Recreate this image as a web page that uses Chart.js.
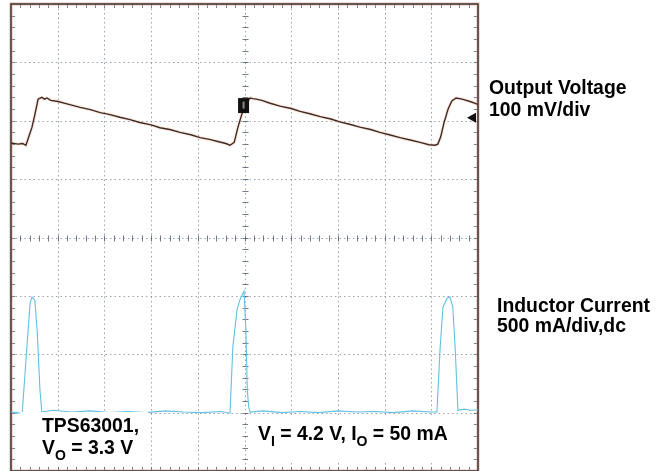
<!DOCTYPE html>
<html>
<head>
<meta charset="utf-8">
<script src="https://cdn.jsdelivr.net/npm/chart.js@4.4.1/dist/chart.umd.min.js"></script>
<style>
  body { margin: 0; background: #fff; }
  #wrap { position: relative; width: 671px; height: 471px; overflow: hidden; }
  canvas { position: absolute; left: 0; top: 0; }
  .txt { position: absolute; font-family: "Liberation Sans", Arial, sans-serif; font-weight: bold;
         font-size: 19.4px; color: #000; white-space: nowrap; }
  .txt span.sub { font-size: 14px; position: relative; top: 6px; }
  .box { position: absolute; background: #fff; }
</style>
</head>
<body>
<div id="wrap">
  <canvas id="chart" width="671" height="471"></canvas>
  <div class="box" style="left:20px; top:412px; width:128px; height:53px;"></div>
  <div class="box" style="left:248px; top:416px; width:215px; height:44px;"></div>
  <div class="txt" style="left:489px; top:77px; line-height:21.7px;">Output Voltage<br>100 mV/div</div>
  <div class="txt" style="left:497px; top:295px; line-height:20px;">Inductor Current<br>500 mA/div,dc</div>
  <div class="txt" style="left:42px; top:414px; line-height:22px;">TPS63001,<br>V<span class="sub">O</span> = 3.3 V</div>
  <div class="txt" style="left:258px; top:422px; line-height:22px;">V<span class="sub">I</span> = 4.2 V, I<span class="sub">O</span> = 50 mA</div>
</div>
<script>
// screen is 10 x 8 divisions, values are in divisions
const voltTime = [0.00, 0.15, 0.25, 0.32, 0.45, 0.51, 0.58, 0.66, 0.72, 0.77, 0.85, 1.01, 1.20, 1.48, 1.70,
  1.91, 2.10, 2.33, 2.55, 2.76, 3.00, 3.19, 3.40, 3.62, 3.85, 4.05, 4.25, 4.45, 4.60, 4.69, 4.78, 4.86, 4.95,
  5.03, 5.12, 5.18, 5.25, 5.37, 5.55, 5.76, 6.00, 6.19, 6.40, 6.62, 6.85, 7.04, 7.25, 7.47, 7.70, 7.90, 8.10,
  8.33, 8.55, 8.76, 8.95, 9.08, 9.14, 9.20, 9.27, 9.36, 9.44, 9.53, 9.66, 9.83, 10.0];
const voltLevel = [5.62, 5.60, 5.61, 5.58, 5.89, 6.10, 6.37, 6.40, 6.37, 6.39, 6.35, 6.33, 6.29, 6.23, 6.19,
  6.14, 6.11, 6.06, 6.02, 5.97, 5.93, 5.88, 5.85, 5.80, 5.76, 5.71, 5.68, 5.64, 5.61, 5.58, 5.63, 5.89, 6.13,
  6.30, 6.39, 6.38, 6.37, 6.35, 6.30, 6.25, 6.21, 6.16, 6.12, 6.07, 6.03, 5.98, 5.94, 5.89, 5.85, 5.80, 5.76,
  5.71, 5.67, 5.63, 5.59, 5.58, 5.60, 5.72, 5.96, 6.20, 6.34, 6.39, 6.37, 6.33, 6.28];

const currTime = [0.00, 0.12, 0.21, 0.24, 0.34, 0.41, 0.45, 0.51, 0.56, 0.62, 0.66, 0.90, 1.30, 1.70, 2.10,
  2.50, 2.90, 3.30, 3.70, 4.10, 4.50, 4.69, 4.75, 4.84, 4.90, 4.99, 5.03, 5.06, 5.09, 5.12, 5.40, 5.80, 6.20,
  6.60, 7.00, 7.40, 7.80, 8.20, 8.60, 9.00, 9.12, 9.19, 9.25, 9.34, 9.40, 9.46, 9.51, 9.57, 9.70, 9.85, 10.0];
const currLevel = [1.01, 1.00, 0.99, 0.99, 2.12, 2.88, 2.98, 2.93, 2.41, 1.39, 1.01, 1.04, 1.01, 1.03, 1.00,
  1.02, 1.00, 1.03, 1.01, 1.00, 1.02, 0.99, 2.12, 2.76, 2.93, 3.08, 2.41, 1.39, 1.10, 1.01, 1.03, 1.00, 1.02,
  1.00, 1.03, 1.01, 1.02, 1.00, 1.03, 1.01, 1.01, 2.12, 2.81, 2.96, 2.98, 2.81, 2.12, 1.04, 1.06, 1.04, 1.05];

const triggerMark = { x: 4.98, y: 6.26 };   // ch1 trigger marker
const groundMark = 6.05;                    // ch1 level arrow on the right edge

const toPoints = (xs, ys) => xs.map((x, i) => ({ x: x, y: ys[i] }));

const scopeGrid = {
  id: 'scopeGrid',
  beforeDatasetsDraw(chart) {
    const { ctx, chartArea: a, scales: { x, y } } = chart;
    ctx.save();
    // graticule lines
    ctx.strokeStyle = 'rgba(120,135,155,0.75)';
    ctx.lineWidth = 1;
    ctx.setLineDash([1.5, 3]);
    for (let i = 1; i < 10; i++) {
      const px = Math.round(x.getPixelForValue(i)) + 0.5;
      ctx.beginPath(); ctx.moveTo(px, a.top); ctx.lineTo(px, a.bottom); ctx.stroke();
    }
    for (let j = 1; j < 8; j++) {
      const py = Math.round(y.getPixelForValue(j)) + 0.5;
      ctx.beginPath(); ctx.moveTo(a.left, py); ctx.lineTo(a.right, py); ctx.stroke();
    }
    ctx.setLineDash([]);
    // minor ticks on border and center axes
    ctx.strokeStyle = 'rgba(80,90,105,0.8)';
    const cx = Math.round(x.getPixelForValue(5)) + 0.5;
    const cy = Math.round(y.getPixelForValue(4)) + 0.5;
    for (let k = 1; k < 50; k++) {
      const px = Math.round(x.getPixelForValue(k / 5)) + 0.5;
      ctx.beginPath();
      ctx.moveTo(px, a.top); ctx.lineTo(px, a.top + 4);
      ctx.moveTo(px, a.bottom); ctx.lineTo(px, a.bottom - 4);
      ctx.moveTo(px, cy - 3); ctx.lineTo(px, cy + 3);
      ctx.stroke();
    }
    for (let k = 1; k < 40; k++) {
      const py = Math.round(y.getPixelForValue(k / 5)) + 0.5;
      ctx.beginPath();
      ctx.moveTo(a.left, py); ctx.lineTo(a.left + 4, py);
      ctx.moveTo(a.right, py); ctx.lineTo(a.right - 4, py);
      ctx.moveTo(cx - 3, py); ctx.lineTo(cx + 3, py);
      ctx.stroke();
    }
    // border with a faint warm halo
    ctx.strokeStyle = 'rgba(240,170,150,0.45)';
    ctx.lineWidth = 4;
    ctx.strokeRect(a.left, a.top, a.right - a.left, a.bottom - a.top);
    ctx.strokeStyle = '#2e2e2e';
    ctx.lineWidth = 1.5;
    ctx.strokeRect(a.left, a.top, a.right - a.left, a.bottom - a.top);
    ctx.restore();
  },
  afterDatasetsDraw(chart) {
    const { ctx, chartArea: a, scales: { x, y } } = chart;
    ctx.save();
    const tx = x.getPixelForValue(triggerMark.x);
    const ty = y.getPixelForValue(triggerMark.y);
    ctx.fillStyle = '#111';
    ctx.fillRect(tx - 5.5, ty - 7.5, 11, 15);
    ctx.fillStyle = '#888';
    ctx.fillRect(tx - 1, ty - 4, 2, 7);
    const gy = y.getPixelForValue(groundMark);
    ctx.fillStyle = '#111';
    ctx.beginPath();
    ctx.moveTo(a.right - 11, gy);
    ctx.lineTo(a.right - 2, gy - 5);
    ctx.lineTo(a.right - 2, gy + 5);
    ctx.closePath();
    ctx.fill();
    ctx.restore();
  }
};

new Chart(document.getElementById('chart'), {
  type: 'scatter',
  data: {
    datasets: [
      { data: toPoints(voltTime, voltLevel), showLine: true, borderColor: 'rgba(240,150,110,0.2)',
        borderWidth: 3.5, pointRadius: 0 },
      { data: toPoints(voltTime, voltLevel), showLine: true, borderColor: '#111',
        borderWidth: 1.4, pointRadius: 0 },
      { data: toPoints(currTime, currLevel), showLine: true, borderColor: '#62c0e2',
        borderWidth: 1.1, pointRadius: 0 }
    ]
  },
  options: {
    responsive: false,
    animation: false,
    layout: { padding: { left: 11, right: 193, top: 4, bottom: 0 } },
    plugins: { legend: { display: false }, tooltip: { enabled: false } },
    scales: {
      x: { type: 'linear', min: 0, max: 10, display: false },
      y: { type: 'linear', min: 0, max: 8, display: false }
    }
  },
  plugins: [scopeGrid]
});
</script>
</body>
</html>
